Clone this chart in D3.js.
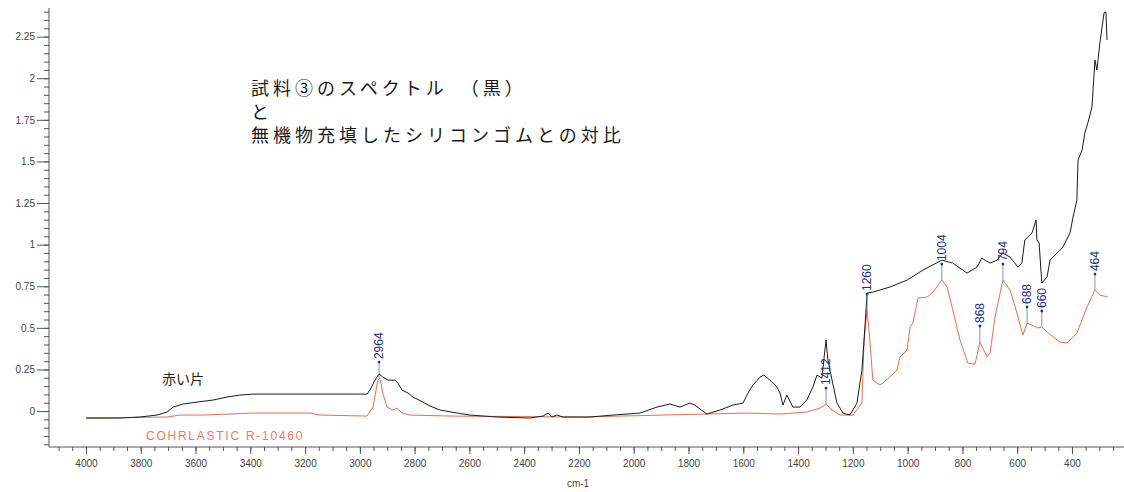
<!DOCTYPE html>
<html>
<head>
<meta charset="utf-8">
<script src="https://cdn.jsdelivr.net/npm/d3@7"></script>
<style>
  html, body { margin: 0; padding: 0; background: #fff; }
  svg { display: block; }
</style>
</head>
<body>
<svg id="chart" width="1124" height="492"></svg>
<script>
// ---- Spectrum of sample (black): wavenumber (cm-1) and absorbance ----
const sampleWavenumber = [4000,3876,3803,3741,3704,3682,3646,3595,3536,3485,3438,3390,3255,3109,3000,2974,2963,2945,2930,2916,2897,2872,2861,2846,2824,2806,2770,2744,2707,2645,2598,2499,2379,2331,2313,2299,2280,2258,2160,2076,1977,1915,1868,1831,1795,1777,1733,1685,1638,1601,1583,1565,1539,1525,1503,1477,1466,1455,1441,1419,1393,1368,1346,1331,1313,1298,1291,1276,1258,1236,1211,1185,1167,1159,1148,1127,1065,1002,944,875,835,783,747,729,699,674,652,626,597,583,572,546,531,528,520,510,491,480,455,433,407,396,382,378,363,353,342,327,316,309,298,290,283,276,272];
const sampleAbsorbance = [-0.042,-0.042,-0.036,-0.024,-0.006,0.024,0.042,0.054,0.066,0.084,0.096,0.102,0.102,0.102,0.102,0.102,0.126,0.186,0.222,0.204,0.186,0.186,0.168,0.126,0.108,0.084,0.054,0.030,0.006,-0.012,-0.024,-0.036,-0.042,-0.030,-0.012,-0.036,-0.024,-0.036,-0.036,-0.024,-0.012,0.024,0.042,0.024,0.048,0.036,-0.018,0.006,0.036,0.048,0.108,0.156,0.204,0.216,0.186,0.144,0.108,0.036,0.096,0.024,0.024,0.066,0.144,0.216,0.198,0.427,0.306,0.186,0.048,-0.012,-0.024,0.048,0.246,0.427,0.709,0.715,0.745,0.787,0.847,0.907,0.889,0.829,0.865,0.919,0.889,0.907,0.949,0.925,0.865,0.889,1.028,1.070,1.148,1.028,1.010,0.769,0.805,0.907,0.949,0.986,1.070,1.166,1.268,1.508,1.569,1.671,1.731,1.827,2.109,2.049,2.212,2.308,2.392,2.398,2.230];

// ---- Reference silicone rubber COHRLASTIC R-10460 (red) ----
const refWavenumber = [4000,3704,3657,3573,3390,3182,3146,2974,2952,2934,2927,2916,2901,2879,2865,2846,2817,2671,2196,1587,1466,1368,1320,1298,1276,1247,1200,1167,1159,1148,1137,1127,1101,1090,1039,1028,1002,991,981,962,929,907,875,856,835,809,780,754,736,710,699,681,652,626,601,579,564,546,524,510,491,444,418,382,345,316,298,269];
const refAbsorbance = [-0.042,-0.036,-0.024,-0.024,-0.012,-0.012,-0.024,-0.030,0.024,0.186,0.198,0.108,0.024,0.006,0.018,-0.012,-0.024,-0.030,-0.036,-0.012,-0.018,-0.006,0.018,0.042,0.006,-0.024,-0.024,0.048,0.427,0.607,0.409,0.186,0.156,0.168,0.246,0.325,0.367,0.505,0.529,0.679,0.685,0.715,0.787,0.745,0.607,0.427,0.288,0.282,0.415,0.325,0.349,0.565,0.787,0.727,0.589,0.457,0.529,0.517,0.499,0.505,0.475,0.415,0.409,0.469,0.625,0.727,0.697,0.685];

// ---- Picked peaks of the reference spectrum ----
const peakLabels = ["2964","1412","1260","1004","868","794","688","660","464"];
const peakWavenumber = [2930,1298,1148,875,736,652,564,510,316];

// ---- Axis ticks ----
const xTickValues = [4000,3800,3600,3400,3200,3000,2800,2600,2400,2200,2000,1800,1600,1400,1200,1000,800,600,400];
const yTickValues = [0,0.25,0.5,0.75,1,1.25,1.5,1.75,2,2.25];

const titleLines = ["試料③のスペクトル　（黒）", "と", "無機物充填したシリコンゴムとの対比"];
const sampleName = "赤い片";
const referenceName = "COHRLASTIC R-10460";
const xAxisTitle = "cm-1";

// ---- Layout ----
const svg = d3.select("#chart");
const plotLeft = 49, plotRight = 1124, plotTop = 8, plotBottom = 447;

const x = d3.scaleLinear().domain([4135, 210]).range([plotLeft, plotRight]);
const y = d3.scaleLinear().domain([-0.216, 2.422]).range([plotBottom, plotTop]);

const axisColor = "#555";
const tickFont = "Arial, 'Liberation Sans', sans-serif";

// y axis: minor ticks every 0.05, labelled majors every 0.25
const yMinor = d3.range(-0.2, 2.4001, 0.05).map(v => +v.toFixed(2));
svg.append("g")
  .attr("transform", `translate(${plotLeft},0)`)
  .call(d3.axisLeft(y).tickValues(yMinor).tickSize(5).tickFormat(""))
  .call(g => g.select(".domain").remove())
  .call(g => g.selectAll("line").attr("stroke", axisColor));

const yAxis = svg.append("g")
  .attr("transform", `translate(${plotLeft},0)`)
  .call(d3.axisLeft(y).tickValues(yTickValues).tickSize(12).tickPadding(2).tickFormat(d3.format("~g")));
yAxis.select(".domain").attr("stroke", axisColor).attr("d", `M0,${plotTop}V${plotBottom}`);
yAxis.selectAll("line").attr("stroke", axisColor);
yAxis.selectAll("text").attr("font-family", tickFont).attr("font-size", 10).attr("fill", "#444");

// x axis: minor ticks every 50, labelled majors every 200
const xMinor = d3.range(4100, 249, -50);
svg.append("g")
  .attr("transform", `translate(0,${plotBottom})`)
  .call(d3.axisBottom(x).tickValues(xMinor).tickSize(4).tickFormat(""))
  .call(g => g.select(".domain").remove())
  .call(g => g.selectAll("line").attr("stroke", axisColor));

const xAxis = svg.append("g")
  .attr("transform", `translate(0,${plotBottom})`)
  .call(d3.axisBottom(x).tickValues(xTickValues).tickSize(7).tickPadding(6).tickFormat(d3.format("d")));
xAxis.select(".domain").attr("stroke", axisColor).attr("d", `M${plotLeft},0H${plotRight}`);
xAxis.selectAll("line").attr("stroke", axisColor);
xAxis.selectAll("text").attr("font-family", tickFont).attr("font-size", 10).attr("fill", "#444");

svg.append("text")
  .attr("x", 578).attr("y", 487)
  .attr("text-anchor", "middle")
  .attr("font-family", tickFont).attr("font-size", 10).attr("fill", "#444")
  .text(xAxisTitle);

// ---- Spectra ----
const line = d3.line().x(d => x(d[0])).y(d => y(d[1]));
const refData = refWavenumber.map((w, i) => [w, refAbsorbance[i]]);
const sampleData = sampleWavenumber.map((w, i) => [w, sampleAbsorbance[i]]);

svg.append("path")
  .datum(refData)
  .attr("fill", "none")
  .attr("stroke", "#f06a4c")
  .attr("stroke-width", 1)
  .attr("d", line);

svg.append("path")
  .datum(sampleData)
  .attr("fill", "none")
  .attr("stroke", "#1b1b1b")
  .attr("stroke-width", 1)
  .attr("d", line);

// ---- Peak annotations on the reference spectrum ----
const peakColor = "#22308c";
const stemLength = 16;
const peaks = peakLabels.map((label, i) => {
  const w = peakWavenumber[i];
  const nearest = refData.reduce((a, b) => Math.abs(b[0] - w) < Math.abs(a[0] - w) ? b : a);
  return { label, w, a: nearest[1] };
});

const pk = svg.append("g").selectAll("g").data(peaks).join("g")
  .attr("transform", d => `translate(${x(d.w)},${y(d.a)})`);
pk.append("line")
  .attr("x1", 0).attr("x2", 0)
  .attr("y1", 0).attr("y2", -stemLength)
  .attr("stroke", "#6a73b0").attr("stroke-width", 0.8);
pk.append("circle")
  .attr("cx", 0).attr("cy", -stemLength).attr("r", 1.4)
  .attr("fill", peakColor);
pk.append("text")
  .attr("transform", `translate(0,${-stemLength - 3}) rotate(-90)`)
  .attr("dy", "0.35em")
  .attr("font-family", tickFont).attr("font-size", 12)
  .attr("fill", peakColor)
  .text(d => d.label);

// ---- Text annotations ----
const title = svg.append("g")
  .attr("font-family", "'Noto Sans CJK JP', sans-serif")
  .attr("font-size", 18)
  .attr("letter-spacing", 4)
  .attr("fill", "#1a1a1a");
title.selectAll("text").data(titleLines).join("text")
  .attr("x", 251)
  .attr("y", (d, i) => 95 + i * 23.5)
  .text(d => d);

svg.append("text")
  .attr("x", 162).attr("y", 384)
  .attr("font-family", "'Noto Sans CJK JP', sans-serif")
  .attr("font-size", 14)
  .attr("fill", "#222")
  .text(sampleName);

svg.append("text")
  .attr("x", 146).attr("y", 440)
  .attr("font-family", tickFont)
  .attr("font-size", 12)
  .attr("letter-spacing", 1.75)
  .attr("fill", "#f07a60")
  .text(referenceName);
</script>
</body>
</html>
